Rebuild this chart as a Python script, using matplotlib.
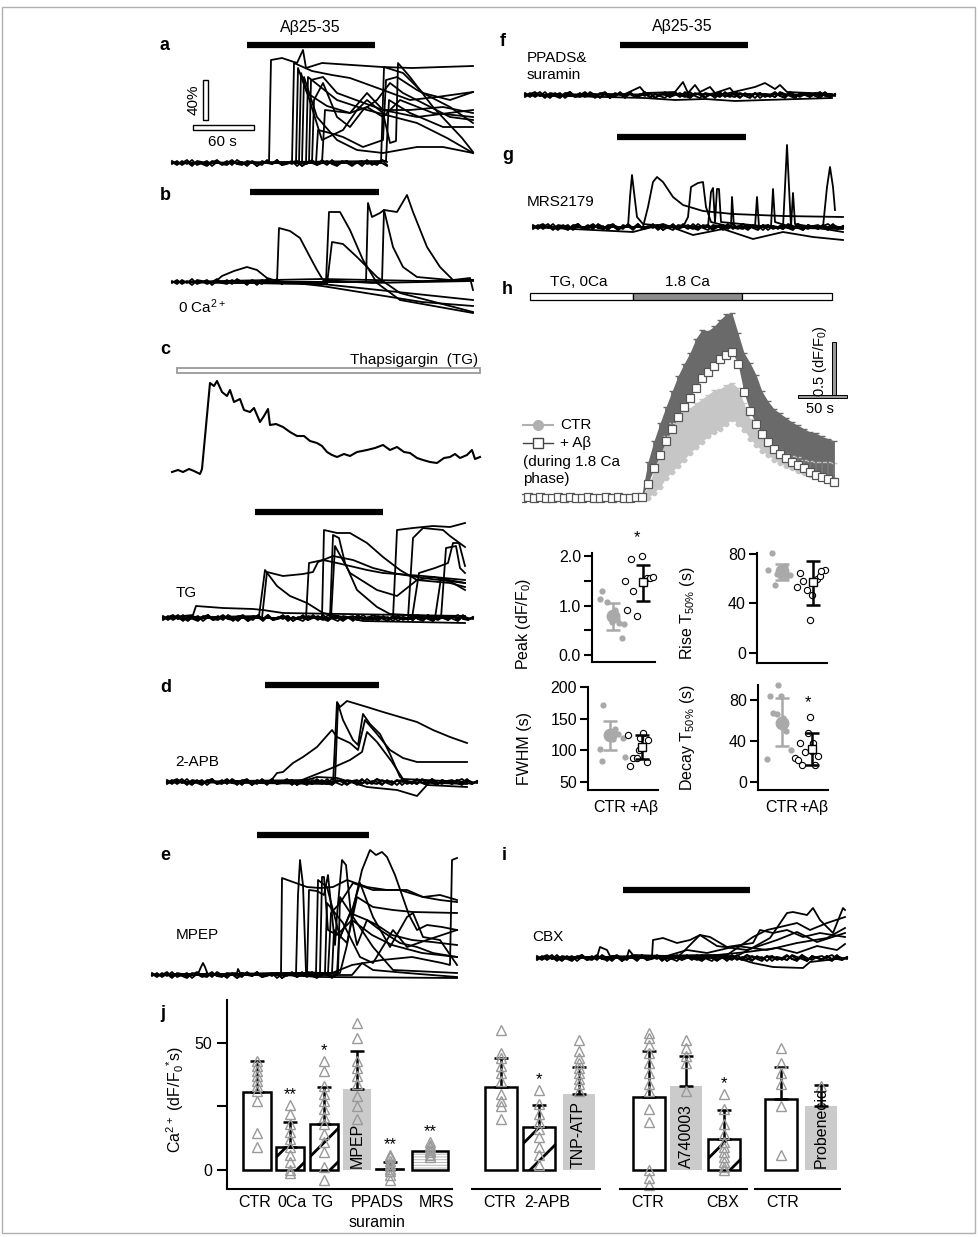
import matplotlib
matplotlib.use('Agg')
import matplotlib.pyplot as plt
import numpy as np
from matplotlib.patches import Rectangle

plt.rcParams['font.family'] = ['Liberation Sans', 'DejaVu Sans']
plt.rcParams['mathtext.default'] = 'regular'
plt.rcParams['hatch.linewidth'] = 2.0

# ---------------- datos (t en s, valores en % dF/F salvo h) ----------------
noise_1 = [1, -2, 2, -1, 3, -2, 0, 2, -3, 1, -1, 2, -2, 3, 0, -2, 1, -3, 2, 0, -1, 3, -2, 1, -1, 2, -3, 0, 2, -1,
           1, -2, 3, -1, 0, 2, -2, 1, -3, 2, -1, 0, 3, -2, 1, -1, 2, -3, 1, 0, -2, 2, -1, 3, -2, 0, 1, -2, 2, -1, 3, -2, 1]
noise_2 = [-1, 2, -2, 1, -3, 2, 1, -2, 0, 3, -1, -2, 2, -1, 1, -3, 2, 0, -2, 3, -1, 1, -2, 0, 2, -3, 1, -1, 3, -2,
           0, 2, -1, -3, 1, 2, -2, 0, -1, 3, -2, 1, 0, -3, 2, -1, 1, 2, -2, 0, 3, -1, -2, 1, -3, 2, 0, -1, 2, -2, 1, -1, 0]
noise_3 = [2, -1, 0, 3, -2, 1, -1, -3, 2, 1, -2, 0, 3, -1, -2, 2, 1, -3, 0, 2, -1, 3, -2, -1, 1, 2, -3, 1, 0, -2,
           3, -1, 1, -2, 2, 0, -3, 1, 2, -1, 0, -2, 3, 1, -1, -3, 2, 0, 1, -2, 2, -1, -3, 3, 0, -2, 1, 2, -1, -3, 2, 0, -1]
noise_4 = [-2, 1, 3, -1, 0, -3, 2, -1, 1, 3, -2, 0, -1, 2, -3, 1, 3, -2, 0, 1, -3, 2, -1, 0, 3, -2, 1, -1, -3, 2,
           1, 0, -2, 3, -1, -3, 2, 1, 0, -2, 3, -1, -2, 2, 0, 1, -3, 2, -1, 0, -2, 3, 1, -1, -3, 2, 0, -2, 1, 3, -1, -2, 1]

a_traces = [
    [(0, 0), (97, 0), (99, 103), (110, 105), (125, 100), (131, 113), (134, 95), (150, 100), (180, 98), (210, 96), (240, 95), (270, 96), (301, 97)],
    [(0, 0), (120, 0), (122, 100), (140, 92), (160, 88), (178, 85), (211, 73), (238, 63), (265, 66), (301, 71)],
    [(0, 0), (124, 0), (126, 95), (135, 70), (155, 57), (178, 50), (195, 56), (211, 46), (228, 63), (261, 50), (301, 46)],
    [(0, 0), (127, 0), (129, 90), (150, 23), (171, 33), (185, 53), (195, 63), (211, 50), (218, 20), (224, 22), (226, 100), (238, 86), (261, 56), (290, 25), (301, 11)],
    [(0, 0), (134, 0), (136, 86), (165, 63), (195, 53), (245, 40), (275, 25), (301, 10)],
    [(0, 0), (137, 0), (139, 83), (151, 86), (165, 70), (211, 53), (245, 46), (301, 53)],
    [(0, 0), (140, 0), (142, 63), (151, 80), (165, 46), (178, 36), (191, 53), (205, 63), (218, 80), (231, 70), (278, 46), (301, 43)],
    [(0, 0), (144, 0), (146, 33), (158, 30), (171, 26), (191, 16), (211, 23), (214, 83), (225, 86), (245, 73), (278, 56), (301, 40)],
    [(0, 0), (209, 0), (212, 96), (231, 90), (251, 70), (278, 63), (301, 71)],
    [(0, 0), (214, 2), (217, 63), (238, 50), (271, 36), (301, 36)],
    [(0, 0), (130, 0), (132, 86), (145, 46), (165, 23), (185, 13), (211, 10), (245, 16), (271, 16), (301, 10)],
    [(0, 0), (150, 0), (153, 53), (178, 50), (195, 70), (211, 53), (238, 53), (271, 56), (301, 50)],
]
b_traces = [
    [(0, 0), (43, 0), (50, 6), (62, 11), (75, 15), (85, 12), (95, 4), (105, 1), (150, -4), (200, -12), (250, -20), (301, -24)],
    [(0, 0), (105, 0), (107, 54), (118, 51), (128, 44), (138, 25), (145, 12), (151, 2), (200, -1), (301, 1)],
    [(0, 0), (154, 0), (157, 70), (168, 70), (178, 52), (191, 22), (205, -1), (228, -18), (301, -31)],
    [(0, 0), (155, -2), (160, 40), (171, 38), (185, 25), (205, 5), (228, -11), (301, -30)],
    [(0, 0), (150, -2), (301, -18)],
    [(0, 0), (194, 0), (196, 79), (200, 65), (208, 69), (212, 72), (221, 35), (231, 15), (245, 5), (278, 2), (301, 2)],
    [(0, 0), (210, 0), (212, 72), (225, 70), (235, 87), (241, 70), (255, 35), (268, 15), (281, 2), (298, 4), (301, -8)],
    [(0, 0), (100, 2), (150, 3), (200, 2), (250, 1), (301, 2)],
]
c_trace = [(0, 0), (6, 2), (11, 0), (17, 3), (22, 1), (28, -2), (30, 3), (38, 89), (42, 86), (45, 91), (50, 80), (55, 76),
           (58, 82), (62, 70), (68, 73), (72, 62), (78, 60), (82, 64), (88, 50), (92, 56), (96, 63), (98, 47), (104, 48),
           (111, 45), (118, 40), (125, 36), (132, 36), (138, 31), (145, 29), (150, 26), (155, 20), (160, 17), (165, 15),
           (172, 18), (178, 16), (185, 20), (195, 22), (203, 24), (211, 27), (218, 22), (225, 25), (232, 20), (238, 19),
           (245, 14), (251, 12), (258, 10), (265, 9), (272, 14), (278, 15), (283, 18), (288, 14), (295, 17), (300, 22),
           (303, 13), (308, 15)]
tg_traces = [
    [(0, 0), (96, 2), (102, 48), (108, 40), (114, 32), (127, 22), (144, 15), (160, 5), (200, -3), (302, -5)],
    [(0, 0), (99, 0), (104, 46), (120, 42), (140, 44), (150, 46), (155, 56), (170, 62), (190, 58), (210, 50), (230, 45), (260, 40), (302, 35)],
    [(0, 0), (143, 0), (146, 55), (160, 58), (174, 55), (187, 52), (204, 48), (220, 45), (260, 42), (302, 38)],
    [(0, 0), (159, 0), (161, 88), (174, 85), (187, 85), (204, 75), (220, 61), (237, 48), (254, 38), (287, 35), (302, 31)],
    [(0, 0), (167, 0), (170, 83), (176, 80), (182, 55), (194, 28), (214, 11), (227, 4), (302, 0)],
    [(0, 0), (168, 0), (172, 72), (187, 45), (214, 28), (234, 22), (254, 38), (270, 41), (302, 35)],
    [(0, 0), (230, 0), (234, 88), (250, 90), (270, 92), (287, 91), (302, 95)],
    [(0, 0), (245, 0), (250, 80), (260, 90), (280, 88), (287, 82), (302, 71)],
    [(0, 0), (249, 0), (256, 45), (272, 50), (285, 55), (290, 75), (296, 75), (302, 52)],
    [(0, 0), (272, 0), (278, 40), (290, 35), (302, 28)],
    [(0, 0), (278, 0), (283, 70), (293, 72), (297, 50), (302, 45)],
    [(0, 0), (30, 3), (33, 12), (60, 10), (90, 9), (100, 8), (120, 5), (302, 2)],
]
d_traces = [
    [(0, 0), (166, -2), (170, 80), (173, 75), (180, 81), (200, 75), (216, 70), (233, 65), (250, 60), (266, 52), (283, 45), (300, 39)],
    [(0, 0), (168, 0), (171, 78), (176, 62), (186, 42), (191, 37), (196, 68), (203, 58), (213, 48), (223, 28), (233, 5), (240, 0), (300, -2)],
    [(0, 0), (103, 0), (110, 9), (116, 10), (126, 19), (136, 25), (150, 35), (165, 52), (170, 45), (183, 39), (191, 32), (198, 62), (210, 48), (223, 32), (236, 24), (250, 20), (300, 20)],
    [(0, 0), (130, 0), (150, 8), (165, 14), (183, 22), (195, 30), (200, 50), (210, 40), (225, 20), (236, 3), (300, 0)],
    [(0, 0), (140, 2), (150, 5), (170, 4), (200, -5), (230, -8), (250, -14), (260, -3), (300, -5)],
]
e_traces = [
    [(0, 0), (129, 1), (130, 97), (141, 93), (155, 88), (168, 87), (181, 88), (195, 95), (215, 88), (235, 85), (255, 85), (271, 78), (288, 80), (305, 75)],
    [(0, 0), (144, 1), (146, 80), (148, 115), (151, 90), (154, 3), (168, 2), (170, 98), (172, 98), (176, 45), (185, 40), (200, 55), (220, 40), (240, 30), (270, 22), (305, 18)],
    [(0, 0), (155, 1), (157, 85), (165, 84), (172, 80), (176, 100), (180, 60), (183, 30), (185, 60), (190, 115), (194, 110), (199, 60), (205, 30), (215, 55), (225, 50), (240, 40), (260, 35), (280, 33), (305, 30)],
    [(0, 0), (188, 2), (195, 30), (202, 70), (210, 105), (218, 125), (224, 120), (230, 123), (235, 118), (243, 100), (250, 80), (257, 60), (265, 45), (275, 50), (290, 48), (305, 45)],
    [(0, 0), (180, 2), (200, 10), (230, 15), (260, 18), (290, 12), (298, 10), (300, 115), (305, 117)],
    [(0, 0), (176, 2), (179, 62), (188, 72), (201, 92), (221, 85), (248, 85), (271, 78), (288, 75), (305, 73)],
    [(0, 0), (180, 2), (182, 45), (195, 32), (205, 78), (221, 68), (241, 65), (261, 63), (305, 62)],
    [(0, 0), (173, 2), (175, 72), (191, 52), (208, 18), (221, 12), (241, 45), (255, 28), (275, 35), (305, 45)],
    [(0, 0), (185, 2), (187, 35), (198, 62), (215, 55), (228, 45), (248, 32), (265, 28), (281, 22), (305, 18)],
    [(0, 0), (200, 0), (210, 12), (221, 5), (255, 2), (305, -2)],
    [(0, 0), (186, 2), (188, 78), (205, 52), (221, 28), (241, 5), (305, 2)],
    [(0, 0), (164, 1), (166, 95), (175, 88), (188, 38), (201, 68), (208, 92), (221, 58), (238, 28), (255, 58), (261, 62), (271, 38), (288, 35), (305, 10)],
    [(0, 0), (46, 1), (49, 8), (51, 12), (53, 8), (56, 0), (85, 2), (86, 6), (88, 2), (130, 0), (170, -2), (305, -3)],
]
f_traces = [
    [(0, 0), (100, 1), (115, 8), (120, 2), (150, 3), (158, 13), (163, 2), (170, 10), (175, 3), (185, 8), (190, 2), (205, 7), (210, 1), (307, 0)],
    [(0, 0), (200, 1), (230, 8), (240, 12), (250, 6), (255, 10), (262, 3), (307, 1)],
    [(0, 0), (120, -3), (150, -5), (180, -4), (210, -6), (240, -5), (307, -3)],
]
g_traces = [
    [(0, 0), (95, 0), (97, 30), (99, 52), (101, 35), (104, 10), (110, 3), (140, 0), (310, 0)],
    [(0, 0), (110, 0), (115, 20), (120, 45), (124, 50), (130, 45), (140, 30), (150, 22), (170, 16), (200, 13), (250, 11), (310, 10)],
    [(0, 0), (150, 0), (155, 10), (158, 40), (165, 44), (170, 45), (173, 20), (178, 5), (198, 0), (199, 30), (201, 0), (222, 0), (224, 30), (226, 0), (310, -2)],
    [(0, 0), (175, 0), (178, 35), (180, 39), (182, 5), (184, 38), (186, 38), (188, 5), (238, 0), (240, 38), (242, 5), (258, 0), (260, 34), (262, 3), (310, -5)],
    [(0, 0), (250, 0), (252, 40), (254, 82), (256, 40), (258, 0), (290, 0), (294, 40), (297, 60), (300, 40), (302, 17)],
    [(0, 0), (100, -5), (130, 3), (160, -8), (190, -2), (220, -12), (250, -5), (280, -10), (310, -13)],
]
i_traces = [
    [(0, 0), (115, 1), (116, 18), (126, 20), (140, 15), (153, 18), (163, 23), (173, 21), (190, 11), (216, 15), (223, 28), (236, 25), (250, 28), (266, 21), (283, 25), (308, 21)],
    [(0, 0), (200, 2), (215, 10), (233, 20), (250, 45), (256, 46), (270, 43), (276, 50), (283, 38), (296, 25), (306, 50), (308, 48)],
    [(0, 0), (190, 3), (216, 21), (230, 28), (243, 31), (260, 35), (273, 28), (290, 35), (308, 41)],
    [(0, 0), (200, 0), (216, -5), (236, -9), (266, -10), (273, -4), (308, 0)],
    [(0, 0), (60, 1), (63, 11), (70, 8), (73, 2), (90, 1), (92, 8), (96, 3), (130, 2), (150, 8), (170, 5), (200, 12), (230, 8), (260, 15), (290, 20), (308, 30)],
    [(0, 0), (140, 0), (150, 10), (163, 23), (180, 12), (210, 8), (240, 18), (260, 26), (280, 16), (308, 25)],
    [(0, 0), (180, 3), (210, 6), (240, 10), (260, 5), (280, 12), (300, 8), (308, 14)],
]

# panel h: media +/- error (dF/F0)
h_t = [0, 6, 12, 18, 24, 30, 36, 42, 48, 54, 60, 66, 72, 78, 84, 90, 96, 102, 108, 114,
       120, 126, 132, 138, 144, 150, 156, 162, 168, 174, 180, 186, 192, 198, 204, 210, 216,
       222, 228, 234, 240, 246, 252, 258, 264, 270, 276, 282, 288, 294, 300, 306, 312]
h_ab_mean = [0.0, 0.01, 0.0, 0.01, 0.0, 0.0, 0.01, 0.0, 0.01, 0.0, 0.0, 0.01, 0.0, 0.0, 0.01, 0.0, 0.01, 0.0, 0.0, 0.01,
             0.01, 0.13, 0.27, 0.39, 0.52, 0.63, 0.74, 0.83, 0.91, 1.00, 1.09, 1.15, 1.20, 1.26, 1.30, 1.33, 1.22,
             0.96, 0.79, 0.67, 0.58, 0.51, 0.45, 0.40, 0.36, 0.33, 0.30, 0.27, 0.24, 0.21, 0.19, 0.17, 0.15]
h_ab_err = [0.02, 0.02, 0.02, 0.02, 0.02, 0.02, 0.02, 0.02, 0.02, 0.02, 0.02, 0.02, 0.02, 0.02, 0.02, 0.02, 0.02, 0.02, 0.02, 0.02,
            0.03, 0.20, 0.25, 0.29, 0.31, 0.34, 0.37, 0.39, 0.41, 0.45, 0.44, 0.37, 0.36, 0.36, 0.37, 0.35, 0.28,
            0.36, 0.44, 0.45, 0.39, 0.37, 0.36, 0.37, 0.37, 0.36, 0.36, 0.36, 0.36, 0.38, 0.37, 0.37, 0.37]
h_ctr_mean = [0.0, 0.0, 0.01, 0.0, 0.0, 0.01, 0.0, 0.0, 0.0, 0.01, 0.0, 0.0, 0.01, 0.0, 0.0, 0.0, 0.01, 0.0, 0.0, 0.0,
              0.0, 0.0, 0.05, 0.10, 0.18, 0.24, 0.29, 0.35, 0.41, 0.46, 0.51, 0.56, 0.60, 0.63, 0.67, 0.72, 0.67,
              0.62, 0.54, 0.48, 0.43, 0.39, 0.35, 0.32, 0.29, 0.27, 0.25, 0.23, 0.21, 0.20, 0.19, 0.18, 0.17]
h_ctr_err = [0.02, 0.02, 0.02, 0.02, 0.02, 0.02, 0.02, 0.02, 0.02, 0.02, 0.02, 0.02, 0.02, 0.02, 0.02, 0.02, 0.02, 0.02, 0.02, 0.02,
             0.02, 0.10, 0.20, 0.32, 0.38, 0.44, 0.45, 0.43, 0.41, 0.40, 0.39, 0.38, 0.38, 0.36, 0.36, 0.33, 0.33,
             0.24, 0.18, 0.16, 0.14, 0.13, 0.12, 0.12, 0.11, 0.11, 0.12, 0.12, 0.13, 0.13, 0.14, 0.15, 0.15]

# panel h: parametros individuales
peak_ctr = ([0.57, 0.64, 0.79, 0.96, 1.07, 1.2, 1.29, 1.37, 1.12], [1.13, 1.29, 1.08, 0.67, 0.91, 0.65, 0.34, 0.62, 0.72])
peak_ab = ([1.4, 1.46, 1.6, 1.68, 1.79, 1.96, 2.03, 2.12, 2.23, 2.34], [1.5, 0.9, 1.93, 1.3, 0.78, 2.0, 1.45, 1.55, 1.55, 1.57])
peak_stats = [(0.78, 0.50, 1.05), (1.47, 1.10, 1.82)]
rise_ctr = ([0.67, 0.56, 0.78, 0.94, 1.08, 1.24, 1.13, 0.83], [81, 67, 55, 62, 70, 63, 61, 64])
rise_ab = ([1.47, 1.58, 1.69, 1.8, 1.9, 1.96, 2.12, 2.22, 2.38, 2.27], [53, 65, 58, 51, 27, 47, 60, 62, 67, 66])
rise_stats = [(66, 59, 72), (57, 39, 74)]
fwhm_ctr = ([0.79, 0.69, 0.74, 1.16, 1.26, 1.42, 1.47, 1.1], [171, 102, 83, 133, 126, 119, 90, 118])
fwhm_ab = ([1.57, 1.63, 1.73, 1.83, 1.94, 2.04, 2.15, 2.2, 1.89], [125, 75, 88, 88, 120, 128, 82, 117, 100])
fwhm_stats = [(124, 100, 147), (106, 86, 125)]
decay_ctr = ([0.49, 0.6, 0.71, 0.87, 0.98, 1.03, 1.14, 1.31, 0.82], [22, 84, 67, 95, 84, 62, 50, 31, 66])
decay_ab = ([1.43, 1.54, 1.6, 1.66, 1.77, 1.88, 1.93, 2.04, 2.1, 2.21, 1.99], [23, 21, 38, 17, 29, 48, 63, 38, 17, 25, 30])
decay_stats = [(58, 35, 82), (32, 17, 48)]

# panel j
j_names = ['CTR', '0Ca', 'TG', 'MPEP', 'PPADS', 'MRS', 'CTR', '2-APB', 'TNP-ATP',
           'CTR', 'A740003', 'CBX', 'CTR', 'Probenecid']
j_means = [30.7, 9, 18, 32, 0.5, 7.3, 32.7, 17, 30, 28.7, 33, 12, 28, 25]
j_sd = [12.3, 10, 14.5, 15, 2.5, 0, 11.3, 8.6, 10.5, 18.3, 12, 11.6, 12.5, 8.5]
j_points = [
    [43, 41, 39, 37, 35, 33, 31, 27, 14.5, 9],
    [25.6, 22, 18, 15, 12, 9, 6, 3, 0, -1],
    [43, 39, 33, 30, 27, 24, 21, 18, 14, 11, 7, 1, -4],
    [58, 52, 43, 40, 37, 34, 29, 25, 20],
    [6, 5, 3.5, 2.5, 1.5, 0.5, -0.5, -2, -4],
    [11, 10, 9, 8, 7, 6, 5],
    [55, 46, 44, 41, 38, 35, 30, 27, 25, 20],
    [31.5, 26, 22, 19, 16, 13, 9, 6, 2],
    [51, 47, 44, 42, 40, 38, 36, 34, 31],
    [54, 52, 49, 46, 42, 38, 34, 31, 24, 19, 0, -3, -6],
    [51, 48, 45, 42, 31],
    [30, 24, 18, 14, 11, 9, 7, 5, 3, 1, 0],
    [48, 42, 38, 34, 25, 6],
    [33],
]
j_stars = ['', '**', '*', '', '**', '**', '', '*', '', '', '', '*', '', '']
j_kind = ['open', 'hatch', 'hatch', 'gray', 'line', 'hline', 'open', 'hatch', 'gray',
          'open', 'gray', 'hatch', 'open', 'gray']

# ---------------- figura ----------------
W, H = 979, 1237
fig = plt.figure(figsize=(W / 100, H / 100), dpi=100)
fig.patches.append(Rectangle((2 / W, 4 / H), 973 / W, 1226 / H, transform=fig.transFigure,
                             fill=False, edgecolor='#b0b0b0', lw=1))


def px_axes(x0, y0, x1, y1):
    return fig.add_axes([x0 / W, 1 - y1 / H, (x1 - x0) / W, (y1 - y0) / H])


def trace_axes(x0, y0, x1, y1, base, ys=1.0):
    ax = px_axes(x0, y0, x1, y1)
    ax.set_xlim(0, x1 - x0)
    ax.set_ylim((base - y1) / ys, (base - y0) / ys)
    ax.axis('off')
    return ax


def draw_traces(ax, traces, lw=1.3):
    for tr in traces:
        t, v = zip(*tr)
        ax.plot(t, v, color='black', lw=lw, clip_on=False)


def draw_noise(ax, t_end, lists):
    for vals in lists:
        t = np.arange(len(vals)) * 5
        keep = t <= t_end
        ax.plot(t[keep], np.array(vals)[keep], color='black', lw=1.3, clip_on=False)


def drug_bar(ax, t0, t1, v):
    ax.plot([t0, t1], [v, v], color='black', lw=4.5, solid_capstyle='butt', clip_on=False)


def letter(x, y, s):
    fig.text(x / W, 1 - y / H, s, fontsize=13, fontweight='bold', ha='left', va='center')


# a
ax = trace_axes(172, 15, 480, 175, 163)
draw_noise(ax, 215, [noise_1, noise_2, noise_3])
draw_traces(ax, a_traces)
drug_bar(ax, 75, 203, 118)
ax.text(138, 135, 'A\u03b225-35', fontsize=11.5, ha='center', va='center')
ax.add_patch(Rectangle((31, 43), 5, 40, fill=False, edgecolor='black', lw=1, clip_on=False))
ax.add_patch(Rectangle((21, 33), 61, 5, fill=False, edgecolor='black', lw=1, clip_on=False))
ax.text(22, 63, '40%', rotation=90, fontsize=11, ha='center', va='center')
ax.text(50, 21, '60 s', fontsize=11, ha='center', va='center')
letter(160, 45, 'a')

# b
ax = trace_axes(172, 180, 480, 325, 282)
draw_noise(ax, 110, [noise_1, noise_2])
draw_traces(ax, b_traces)
drug_bar(ax, 78, 207, 90)
ax.text(6, -25, '0 Ca$^{2+}$', fontsize=11, ha='left', va='center')
letter(160, 196, 'b')

# c
ax = trace_axes(172, 340, 485, 480, 472)
ax.add_patch(Rectangle((5, 99), 303, 5, fill=False, edgecolor='#999999', lw=1.3, clip_on=False))
ax.text(306, 112, 'Thapsigargin  (TG)', fontsize=11, ha='right', va='center')
t, v = zip(*c_trace)
ax.plot(t, v, color='black', lw=1.5, clip_on=False)
letter(160, 350, 'c')

ax = trace_axes(163, 495, 470, 640, 618)
draw_noise(ax, 310, [noise_1, noise_2, noise_3, noise_4])
draw_traces(ax, tg_traces)
drug_bar(ax, 92, 220, 106)
ax.text(23, 25, 'TG', fontsize=11, ha='center', va='center')

# d
ax = trace_axes(167, 675, 475, 800, 782)
draw_noise(ax, 310, [noise_1, noise_2, noise_3, noise_4])
draw_traces(ax, d_traces)
drug_bar(ax, 98, 212, 97)
ax.text(30, 20, '2-APB', fontsize=11, ha='center', va='center')
letter(160, 688, 'd')

# e
ax = trace_axes(152, 825, 460, 985, 975)
draw_noise(ax, 185, [noise_1, noise_2, noise_3])
draw_traces(ax, e_traces)
drug_bar(ax, 105, 217, 140)
ax.text(45, 40, 'MPEP', fontsize=11, ha='center', va='center')
letter(160, 855, 'e')

# f
ax = trace_axes(525, 15, 840, 110, 95)
draw_noise(ax, 310, [noise_1, noise_2, noise_3, noise_4])
draw_traces(ax, f_traces)
drug_bar(ax, 95, 223, 50)
ax.text(157, 68, 'A\u03b225-35', fontsize=11.5, ha='center', va='center')
ax.text(2, 37, 'PPADS&', fontsize=11, ha='left', va='center')
ax.text(2, 20, 'suramin', fontsize=11, ha='left', va='center')
letter(500, 42, 'f')

# g
ax = trace_axes(533, 120, 850, 245, 227)
draw_noise(ax, 310, [noise_1, noise_2, noise_3, noise_4])
draw_traces(ax, g_traces)
drug_bar(ax, 84, 213, 90)
ax.text(-6, 25, 'MRS2179', fontsize=11, ha='left', va='center')
letter(502, 155, 'g')

# h
ax = trace_axes(522, 270, 850, 510, 498, ys=110)
for t0, t1, fc in [(8, 111, 'white'), (111, 220, '#8c8c8c'), (220, 310, 'white')]:
    ax.add_patch(Rectangle((t0, 1.80), t1 - t0, 0.064, facecolor=fc, edgecolor='black', lw=0.9, clip_on=False))
ax.text(57, 1.96, 'TG, 0Ca', fontsize=11, ha='center', va='center')
ax.text(165, 1.96, '1.8 Ca', fontsize=11, ha='center', va='center')
zeros = np.zeros(len(h_t))
ctr_m = np.array(h_ctr_mean)
ab_m = np.array(h_ab_mean)
ax.fill_between(h_t, ctr_m, ctr_m + np.array(h_ctr_err), color='#c6c6c6', lw=0)
ax.errorbar(h_t, ctr_m, yerr=[zeros, h_ctr_err], fmt='none', ecolor='#c6c6c6', elinewidth=1.2, capsize=2)
ax.plot(h_t, ctr_m, 'o', color='#c6c6c6', ms=4, mec='none')
ax.fill_between(h_t, ab_m, ab_m + np.array(h_ab_err), color='#6a6a6a', lw=0)
ax.errorbar(h_t, ab_m, yerr=[zeros, h_ab_err], fmt='none', ecolor='#6a6a6a', elinewidth=1.2, capsize=2)
ax.plot(h_t, ab_m, 's', mfc='white', mec='#555555', ms=5.5, mew=0.9)
ax.add_patch(Rectangle((310, 0.92), 4, 0.5, facecolor='#999999', edgecolor='black', lw=0.7, clip_on=False))
ax.add_patch(Rectangle((276, 0.905), 49, 0.03, facecolor='#999999', edgecolor='black', lw=0.7, clip_on=False))
ax.text(298, 1.24, '0.5 (dF/F$_0$)', rotation=90, fontsize=10.5, ha='center', va='center')
ax.text(298, 0.81, '50 s', fontsize=10.5, ha='center', va='center')
ax.plot([1, 31], [0.66, 0.66], color='#b0b0b0', lw=1.5, clip_on=False)
ax.plot([16], [0.66], 'o', color='#b0b0b0', ms=7, clip_on=False)
ax.text(38, 0.66, 'CTR', fontsize=11, va='center')
ax.plot([1, 31], [0.5, 0.5], color='#444444', lw=1, clip_on=False)
ax.plot([16], [0.5], 's', mfc='white', mec='#444444', ms=7, clip_on=False)
ax.text(38, 0.5, '+ A\u03b2', fontsize=11, va='center')
ax.text(1, 0.33, '(during 1.8 Ca', fontsize=11, va='center')
ax.text(1, 0.17, 'phase)', fontsize=11, va='center')
letter(502, 290, 'h')


def stat_panel(box, ylim, xlim, yticks, ylabels, minor, ylabel, lab_pos, ctr, ab, stats, star=None, xlab=False):
    ax = px_axes(*box)
    ax.set_xlim(*xlim)
    ax.set_ylim(*ylim)
    for s in ['top', 'right']:
        ax.spines[s].set_visible(False)
    for s in ['left', 'bottom']:
        ax.spines[s].set_linewidth(1.5)
    ax.set_yticks(yticks)
    ax.set_yticklabels(ylabels)
    ax.set_yticks(minor, minor=True)
    ax.tick_params(axis='y', which='both', direction='out', length=6, width=1.5, labelsize=11.5, pad=2)
    if xlab:
        ax.set_xticks([1, 2.05])
        ax.set_xticklabels(['CTR', '+A\u03b2'])
        ax.tick_params(axis='x', length=0, labelsize=11.5, pad=7)
    else:
        ax.set_xticks([])
    ax.set_ylabel(ylabel, fontsize=11.5)
    ax.yaxis.set_label_coords(*lab_pos)
    ax.plot(ctr[0], ctr[1], 'o', color='#a9a9a9', ms=4.5, mec='none', clip_on=False)
    ax.plot(ab[0], ab[1], 'o', mfc='white', mec='black', ms=4.5, mew=0.8, clip_on=False)
    m, lo, hi = stats[0]
    ax.errorbar([1], [m], yerr=[[m - lo], [hi - m]], fmt='o', color='#a9a9a9', ms=9,
                elinewidth=1.8, capsize=5, capthick=1.8)
    m, lo, hi = stats[1]
    ax.errorbar([2], [m], yerr=[[m - lo], [hi - m]], fmt='s', mfc='white', mec='black', ms=6,
                ecolor='black', elinewidth=1.8, capsize=5, capthick=1.8)
    if star:
        ax.text(star[0], star[1], '*', fontsize=12, ha='center', va='center')
    return ax


stat_panel((592, 553, 655, 662), (-0.14, 2.06), (0.3, 2.4), [0, 1, 2], ['0.0', '1.0', '2.0'], [0.5, 1.5],
           'Peak (dF/F$_0$)', (-0.93, 0.35), peak_ctr, peak_ab, peak_stats, star=(1.8, 2.38))
stat_panel((757, 553, 827, 663), (-8.1, 80.8), (0.19, 2.45), [0, 40, 80], ['0', '40', '80'], [],
           'Rise T$_{50\\%}$ (s)', (-0.86, 0.45), rise_ctr, rise_ab, rise_stats)
stat_panel((588, 687, 658, 790), (37.4, 200), (0.31, 2.5), [50, 100, 150, 200], ['50', '100', '150', '200'], [],
           'FWHM (s)', (-0.8, 0.4), fwhm_ctr, fwhm_ab, fwhm_stats, xlab=True)
stat_panel((758, 685, 828, 790), (-7.8, 94.6), (0.2, 2.53), [0, 40, 80], ['0', '40', '80'], [],
           'Decay T$_{50\\%}$ (s)', (-0.87, 0.5), decay_ctr, decay_ab, decay_stats, star=(1.87, 77), xlab=True)

# i
ax = trace_axes(537, 850, 850, 975, 958)
draw_noise(ax, 310, [noise_1, noise_2, noise_3, noise_4])
draw_traces(ax, i_traces)
drug_bar(ax, 86, 213, 68)
ax.text(-5, 21, 'CBX', fontsize=11, ha='left', va='center')
letter(502, 855, 'i')

# j
j_pos = [30, 63, 96.5, 130, 163, 203, 274, 312, 351.5, 421.5, 459, 497, 553.5, 594]
j_width = [28, 28, 28, 28, 28, 36, 32, 32, 32, 32, 32, 32, 32, 32]
ax = px_axes(227, 1000, 845, 1188)
ax.set_xlim(0, 618)
ax.set_ylim(-7.1, 66.9)
for s in ['top', 'right', 'bottom']:
    ax.spines[s].set_visible(False)
ax.spines['left'].set_linewidth(1.5)
ax.set_xticks([])
ax.set_yticks([0, 50])
ax.set_yticks([25], minor=True)
ax.tick_params(axis='y', which='both', direction='out', length=7, width=1.5, labelsize=11.5)
ax.set_ylabel('Ca$^{2+}$ (dF/F$_0$$^{*}$s)', fontsize=11.5)
ax.yaxis.set_label_coords(-0.066, 0.47)
for i, name in enumerate(j_names):
    x, w, m, kind = j_pos[i], j_width[i], j_means[i], j_kind[i]
    if kind == 'open':
        ax.bar(x, m, w, facecolor='white', edgecolor='black', lw=1.8)
    elif kind == 'hatch':
        ax.bar(x, m, w, facecolor='white', edgecolor='black', lw=1.8, hatch='/')
    elif kind == 'gray':
        ax.bar(x, m, w, facecolor='#cbcbcb', edgecolor='none')
        ax.text(x, 0.6, name, rotation=90, fontsize=11.5, ha='center', va='bottom')
    elif kind == 'line':
        ax.bar(x, m, w, facecolor='black', edgecolor='black', lw=1.2)
    else:
        with plt.rc_context({'hatch.linewidth': 0.7}):
            ax.bar(x, m, w, facecolor='white', edgecolor='#b5b5b5', lw=0, hatch='------')
        ax.bar(x, m, w, fill=False, edgecolor='black', lw=1.8)
    if j_sd[i] > 0:
        ax.errorbar([x], [m], yerr=[[0], [j_sd[i]]], fmt='none', ecolor='black', elinewidth=1.8,
                    capsize=5, capthick=1.8)
    ax.plot([x] * len(j_points[i]), j_points[i], '^', mfc='none', mec='#9a9a9a', ms=6.5, mew=1, clip_on=False)
    if j_stars[i]:
        top = max(j_points[i] + [m + j_sd[i]])
        ax.text(x, top + 4, j_stars[i], fontsize=12, ha='center', va='center')
for x0, x1 in [(0, 225), (245, 373), (393, 520), (528, 613)]:
    ax.plot([x0, x1], [-7.3, -7.3], color='black', lw=1.5, clip_on=False)
for x, y, s in [(28, -13, 'CTR'), (65, -13, '0Ca'), (96, -13, 'TG'), (150, -13, 'PPADS'), (210, -13, 'MRS'),
                (150, -20.5, 'suramin'), (273, -13, 'CTR'), (320, -13, '2-APB'), (421, -13, 'CTR'),
                (496, -13, 'CBX'), (556, -13, 'CTR')]:
    ax.text(x, y, s, fontsize=11.5, ha='center', va='center')
letter(160, 1013, 'j')

fig.savefig('out.png', dpi=100)
